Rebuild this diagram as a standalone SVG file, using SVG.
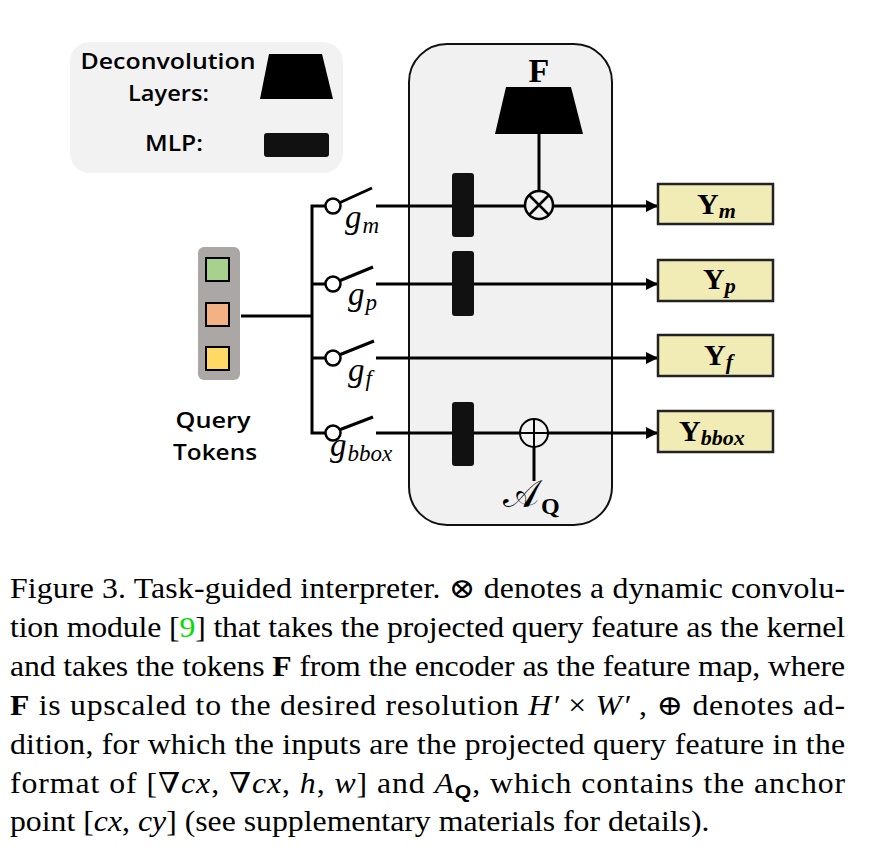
<svg xmlns="http://www.w3.org/2000/svg" width="872" height="851" viewBox="0 0 872 851">
<style>
.sans{font-family:"Open Sans","Noto Sans","DejaVu Sans",sans-serif;font-weight:600;fill:#000}
.ser{font-family:"Liberation Serif","DejaVu Serif",serif;fill:#000}
.b{font-weight:bold}
.i{font-style:italic}
.ln{stroke:#000;stroke-width:3;fill:none}
.mlp{fill:#111;stroke:none}
.ybox{fill:#f1ecb5;stroke:#222;stroke-width:2.5}
.sq{stroke:#000;stroke-width:2}
.cap{font-family:"Liberation Serif","DejaVu Serif",serif;font-size:28.5px;fill:#000}
</style>
<defs>
<marker id="arr" markerUnits="userSpaceOnUse" markerWidth="13" markerHeight="13" refX="12" refY="6" orient="auto">
<path d="M0,0 L12,6 L0,12 z" fill="#000"/>
</marker>
</defs>
<rect width="872" height="851" fill="#fff"/>

<g id="legend">
<rect x="70" y="42" width="273" height="131" rx="20" fill="#f2f2f2"/>
<text class="sans" x="168" y="69" font-size="21" text-anchor="middle" textLength="175" lengthAdjust="spacingAndGlyphs">Deconvolution</text>
<text class="sans" x="168.5" y="101" font-size="21" text-anchor="middle" textLength="81" lengthAdjust="spacingAndGlyphs">Layers:</text>
<text class="sans" x="174" y="151" font-size="21" text-anchor="middle" textLength="58" lengthAdjust="spacingAndGlyphs">MLP:</text>
<polygon points="269,54 322,54 333,99 260,99" fill="#000"/>
<rect x="264" y="133" width="65" height="24" rx="3" class="mlp"/>
</g>

<g id="panel">
<rect x="409" y="44" width="203" height="481" rx="38" fill="#f1f1f1" stroke="#111" stroke-width="2"/>
</g>

<g id="query-tokens">
<rect x="198" y="247" width="42" height="133" rx="6" fill="#aba7a5"/>
<rect x="206" y="258" width="23" height="23" fill="#a9d18e" class="sq"/>
<rect x="206" y="303" width="23" height="23" fill="#f4b183" class="sq"/>
<rect x="206" y="347" width="23" height="23" fill="#ffd966" class="sq"/>
<text class="sans" x="213" y="428" font-size="21" text-anchor="middle" textLength="75" lengthAdjust="spacingAndGlyphs">Query</text>
<text class="sans" x="215" y="460" font-size="21" text-anchor="middle" textLength="84" lengthAdjust="spacingAndGlyphs">Tokens</text>
</g>

<g id="connectors">
<path class="ln" d="M241,316 H312"/>
<path class="ln" d="M326,206 H312 V433 H326 M312,284 H326 M312,358 H326"/>
<path class="ln" d="M339,203 L372,188 M339,281 L373,267 M339,355 L374,341 M339,430 L373,417"/>
<path class="ln" d="M376,206 H658" marker-end="url(#arr)"/>
<path class="ln" d="M376,284 H658" marker-end="url(#arr)"/>
<path class="ln" d="M376,358 H658" marker-end="url(#arr)"/>
<path class="ln" d="M376,433 H658" marker-end="url(#arr)"/>
<path class="ln" d="M539,134 V191"/>
<path class="ln" d="M534,447 V481"/>
</g>

<g id="switches">
<circle cx="333" cy="206" r="7.5" fill="#fff" stroke="#000" stroke-width="2.5"/>
<circle cx="333" cy="284" r="7.5" fill="#fff" stroke="#000" stroke-width="2.5"/>
<circle cx="333" cy="358" r="7.5" fill="#fff" stroke="#000" stroke-width="2.5"/>
<circle cx="333" cy="433" r="7.5" fill="#fff" stroke="#000" stroke-width="2.5"/>
<text class="ser i" x="345" y="228" font-size="33">g<tspan font-size="23" dx="1" dy="5">m</tspan></text>
<text class="ser i" x="348" y="305" font-size="33">g<tspan font-size="23" dx="1" dy="5">p</tspan></text>
<text class="ser i" x="348" y="381" font-size="33">g<tspan font-size="23" dx="1" dy="5">f</tspan></text>
<text class="ser i" x="330" y="456" font-size="33">g<tspan font-size="23" dx="1" dy="5">bbox</tspan></text>
</g>

<g id="deconv-F">
<text class="ser b" x="539" y="82" font-size="34" text-anchor="middle">F</text>
<polygon points="506,87 571,87 583,134 495,134" fill="#000"/>
</g>

<g id="mlp-bars">
<rect x="452" y="173" width="22" height="64" rx="3" class="mlp"/>
<rect x="452" y="251" width="22" height="65" rx="3" class="mlp"/>
<rect x="452" y="402" width="22" height="64" rx="3" class="mlp"/>
</g>

<g id="otimes">
<circle cx="539" cy="205" r="14" fill="#f1f1f1" stroke="#000" stroke-width="2.5"/>
<path d="M529,195 L549,215 M549,195 L529,215" stroke="#000" stroke-width="2.5"/>
</g>

<g id="oplus">
<circle cx="534" cy="433" r="14" fill="#f1f1f1" stroke="#000" stroke-width="2"/>
<path d="M520,433 H548 M534,419 V447" stroke="#000" stroke-width="2"/>
<text class="ser" x="503" y="507" font-size="38" font-family="DejaVu Serif">𝒜</text>
<text class="ser b" x="541" y="514" font-size="24">Q</text>
</g>

<g id="out-m">
<rect x="658" y="184" width="115" height="40" class="ybox"/>
<text class="ser b" x="697" y="214" font-size="30">Y<tspan class="i" font-size="22" dy="4">m</tspan></text>
</g>
<g id="out-p">
<rect x="658" y="260" width="115" height="41" class="ybox"/>
<text class="ser b" x="703" y="289" font-size="30">Y<tspan class="i" font-size="22" dy="4">p</tspan></text>
</g>
<g id="out-f">
<rect x="658" y="335" width="115" height="41" class="ybox"/>
<text class="ser b" x="704" y="365" font-size="30">Y<tspan class="i" font-size="22" dy="4">f</tspan></text>
</g>
<g id="out-bbox">
<rect x="658" y="411" width="115" height="41" class="ybox"/>
<text class="ser b" x="679" y="441" font-size="30">Y<tspan class="i" font-size="22" dy="4">bbox</tspan></text>
</g>

<g id="caption" transform="scale(1.115,1)">
<text class="cap" x="8.97" y="598" textLength="749" lengthAdjust="spacing">Figure 3.  Task-guided interpreter. ⊗ denotes a dynamic convolu-</text>
<text class="cap" x="8.97" y="637" textLength="749" lengthAdjust="spacing">tion module [<tspan fill="#00dd00">9</tspan>] that takes the projected query feature as the kernel</text>
<text class="cap" x="8.97" y="676" textLength="749" lengthAdjust="spacing">and takes the tokens <tspan font-weight="bold">F</tspan> from the encoder as the feature map, where</text>
<text class="cap" x="8.97" y="715" textLength="749" lengthAdjust="spacing"><tspan font-weight="bold">F</tspan> is upscaled to the desired resolution <tspan font-style="italic">H′</tspan> × <tspan font-style="italic">W′</tspan> , ⊕ denotes ad-</text>
<text class="cap" x="8.97" y="754" textLength="749" lengthAdjust="spacing">dition, for which the inputs are the projected query feature in the</text>
<text class="cap" x="8.97" y="793" textLength="749" lengthAdjust="spacing">format of [∇<tspan font-style="italic">cx</tspan>, ∇<tspan font-style="italic">cx</tspan>, <tspan font-style="italic">h</tspan>, <tspan font-style="italic">w</tspan>] and <tspan font-style="italic">A</tspan><tspan font-family="Liberation Sans,sans-serif" font-weight="bold" font-size="19" dy="5">Q</tspan><tspan dy="-5">, which contains the anchor</tspan></text>
<text class="cap" x="8.97" y="831">point [<tspan font-style="italic">cx</tspan>, <tspan font-style="italic">cy</tspan>] (see supplementary materials for details).</text>
</g>
</svg>
